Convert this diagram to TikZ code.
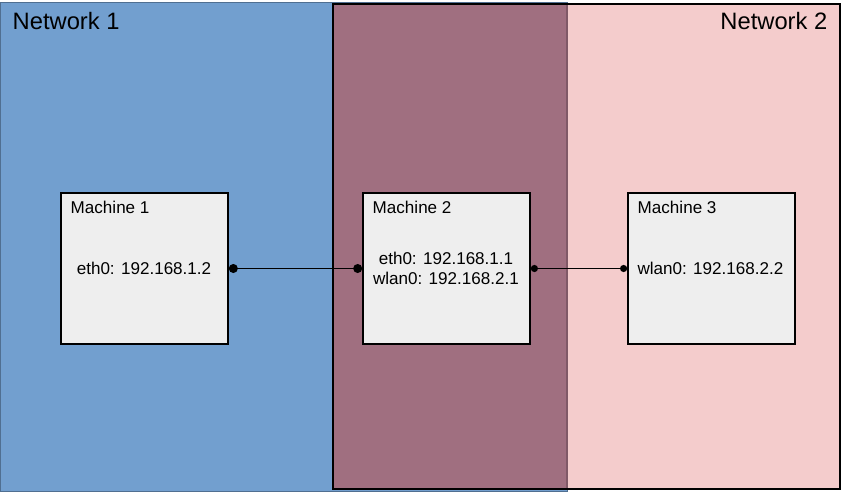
\documentclass[tikz,border=0pt]{standalone}
\usepackage{fontspec}
\setmainfont{Liberation Sans}
\usetikzlibrary{calc,positioning}
\definecolor{netblue}{HTML}{729FCF}
\definecolor{netpink}{HTML}{F4CCCC}
\definecolor{netboth}{HTML}{A06F80}
\definecolor{boxgray}{HTML}{EEEEEE}

\begin{document}
\begin{tikzpicture}[x=0.75pt,y=-0.75pt,
  machine/.style={draw,line width=0.8pt,fill=boxgray,minimum width=125.25pt,minimum height=113.25pt,inner sep=0pt},
  port/.style={circle,fill=black,inner sep=0pt,minimum size=#1},
  port/.default=6.8pt,
  nettitle/.style={font=\fontsize{17.8}{20}\selectfont},
  boxtitle/.style={font=\fontsize{12.8}{15}\selectfont,anchor=west,inner sep=0pt},
  addr/.style={font=\fontsize{12.8}{15}\selectfont,align=center,inner sep=0pt}]
\useasboundingbox (0,0) rectangle (841,493);
% the two networks and their overlap
\fill[netblue,draw=netblue!70!black,line width=0.5pt] (0,2) rectangle (567,491);
\fill[netpink,draw=black,line width=1pt] (333,4) rectangle (840,489);
\fill[netboth] (333,4) rectangle (567,489);
\draw[netboth!80!black,line width=0.8pt] (567,4)--(567,489);
\draw[line width=1pt] (840,4)--(333,4)--(333,489)--(840,489);
\node[nettitle,anchor=west] (n1) at (8,21) {Network 1};
\node[nettitle,anchor=east] (n2) at (832,21) {Network 2};
% machines
\node[machine] (m1) at (144.5,268.5) {};
\node[machine] (m2) at (446.5,268.5) {};
\node[machine] (m3) at (711.5,268.5) {};
\node[boxtitle] (t1) at ($(m1.north west)+(10,15)$) {Machine 1};
\node[boxtitle] (t2) at ($(m2.north west)+(10,15)$) {Machine 2};
\node[boxtitle] (t3) at ($(m3.north west)+(10,15)$) {Machine 3};
\node[addr] (a1) at (144,268) {eth0: 192.168.1.2};
\node[addr] (a2) at (446,268.5) {eth0: 192.168.1.1\\wlan0: 192.168.2.1};
\node[addr] (a3) at (710.5,268) {wlan0: 192.168.2.2};
% links
\node[port,anchor=west] (p1) at (m1.east) {};
\node[port,anchor=east] (p2) at (m2.west) {};
\node[port=5.4pt,anchor=west] (p3) at (m2.east) {};
\node[port=5.4pt,anchor=east] (p4) at (m3.west) {};
\draw[line width=0.75pt] (p1)--(p2);
\draw[line width=0.75pt] (p3)--(p4);
\end{tikzpicture}
\end{document}
